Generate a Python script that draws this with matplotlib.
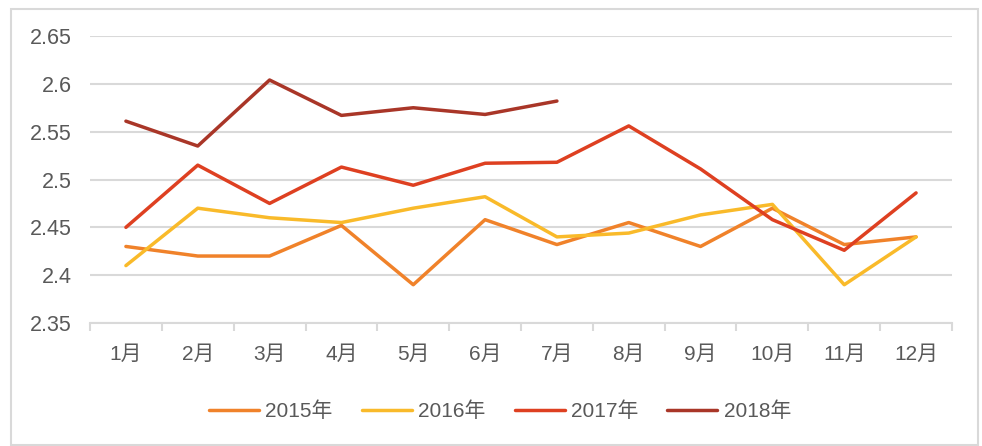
import numpy as np
import matplotlib
matplotlib.use("Agg")
import matplotlib.pyplot as plt
from matplotlib.patches import Rectangle

plt.rcParams['font.family'] = ['Liberation Sans', 'Noto Sans CJK SC']

months = ["1月", "2月", "3月", "4月", "5月", "6月", "7月", "8月", "9月", "10月", "11月", "12月"]
y2015 = [2.43, 2.42, 2.42, 2.452, 2.39, 2.458, 2.432, 2.455, 2.43, 2.47, 2.432, 2.44]
y2016 = [2.41, 2.47, 2.46, 2.455, 2.47, 2.482, 2.44, 2.444, 2.463, 2.474, 2.39, 2.44]
y2017 = [2.45, 2.515, 2.475, 2.513, 2.494, 2.517, 2.518, 2.556, 2.511, 2.458, 2.426, 2.486]
y2018 = [2.561, 2.535, 2.604, 2.567, 2.575, 2.568, 2.582]
labels = ["2015年", "2016年", "2017年", "2018年"]
colors = ["#F0822A", "#F9BA2A", "#DE4021", "#A93628"]

W, H = 982, 446
fig = plt.figure(figsize=(W / 100, H / 100), dpi=100)
fig.patches.append(Rectangle((11 / W, 1 / H), 967 / W, 436 / H, transform=fig.transFigure,
                             fill=False, edgecolor="#D9D9D9", linewidth=1.5))
ax = fig.add_axes([90 / W, 1 - 323 / H, 862 / W, 287 / H])

x = np.arange(len(months))
for data, lab, c in zip([y2015, y2016, y2017, y2018], labels, colors):
    ax.plot(x[:len(data)], data, color=c, linewidth=2.5, label=lab, solid_capstyle="round")

ax.set_xlim(-0.5, 11.5)
ax.set_ylim(2.35, 2.65)
ax.set_yticks(np.arange(2.35, 2.651, 0.05))
ax.set_yticklabels(["2.35", "2.4", "2.45", "2.5", "2.55", "2.6", "2.65"])
ax.set_xticks(x)
ax.set_xticklabels(months)
ax.set_xticks(np.arange(-0.5, 12, 1), minor=True)
ax.tick_params(axis="x", which="major", length=0, pad=16, labelsize=15, labelcolor="#595959")
ax.tick_params(axis="x", which="minor", length=6, width=1.5, color="#D9D9D9")
ax.tick_params(axis="y", length=0, pad=13, labelsize=15.5, labelcolor="#595959")
ax.yaxis.grid(True, color="#D9D9D9", linewidth=1.5)
ax.set_axisbelow(True)
for s in ["top", "right", "left"]:
    ax.spines[s].set_visible(False)
ax.spines["bottom"].set_color("#D9D9D9")
ax.spines["bottom"].set_linewidth(1.5)

leg = fig.legend(loc="center", bbox_to_anchor=(500 / W, 1 - 411 / H), ncol=4, frameon=False,
                 fontsize=15, handlelength=2.4, handletextpad=0.3, columnspacing=1.4)
for t in leg.get_texts():
    t.set_color("#595959")

fig.savefig("out.png", dpi=100)
